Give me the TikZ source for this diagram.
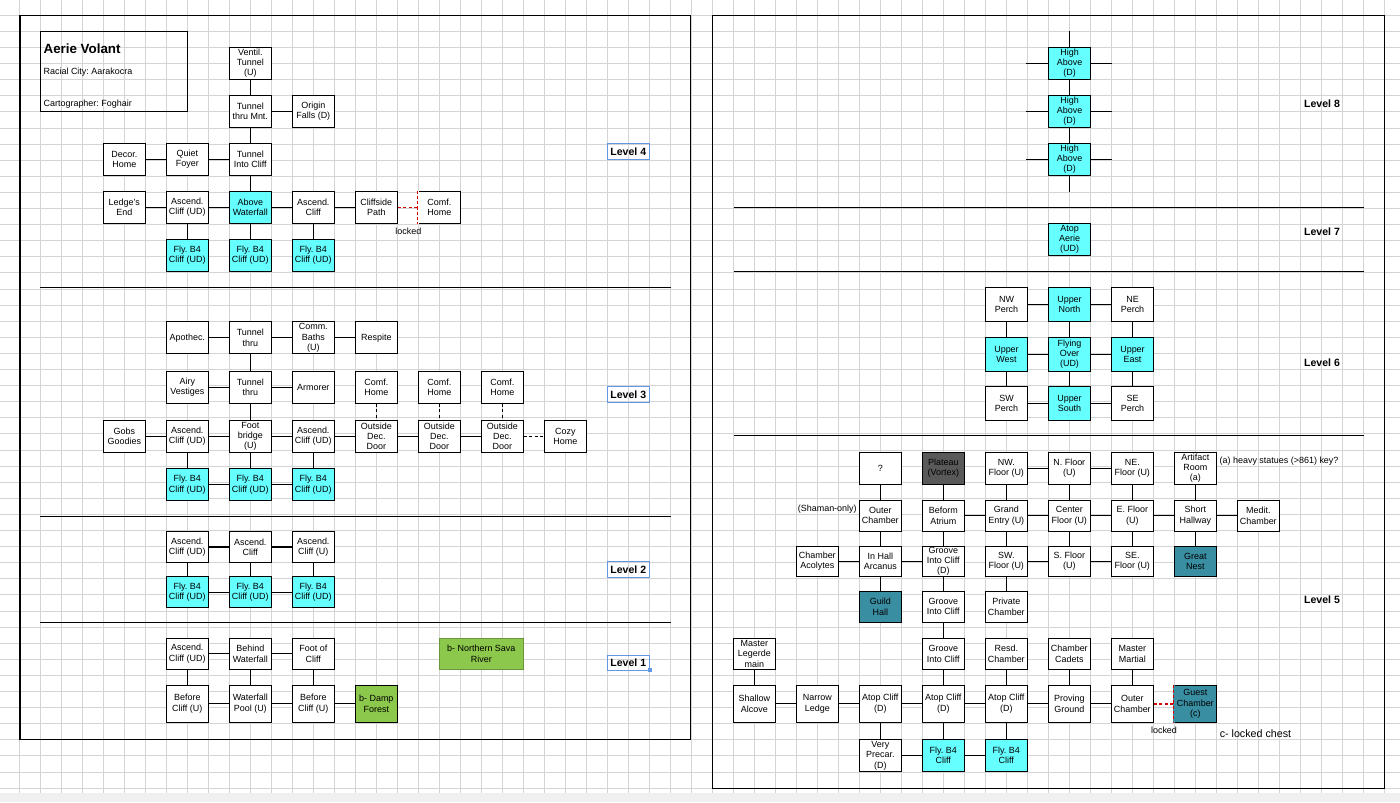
\documentclass[tikz,border=0pt]{standalone}
\usepackage{fontspec}
\setmainfont{Liberation Sans}
\frenchspacing
\definecolor{flycyan}{RGB}{102,255,255}
\definecolor{hallteal}{RGB}{58,142,162}
\definecolor{vortexgray}{RGB}{89,89,89}
\definecolor{exitgreen}{RGB}{140,200,75}
\definecolor{gridgray}{RGB}{212,212,212}
\definecolor{lvlblue}{RGB}{100,150,230}
\definecolor{lockred}{RGB}{210,0,0}
\begin{document}
\begin{tikzpicture}[x=0.02cm, y=-0.02cm,
  every node/.style={font=\fontsize{5.1}{5.9}\selectfont},
  room/.style={draw, fill=white, line width=0.75pt, minimum width=0.84cm, minimum height=0.64cm, inner sep=0pt, align=center},
  fly/.style={room, fill=flycyan},
  hall/.style={room, fill=hallteal},
  vortex/.style={room, fill=vortexgray},
  exit/.style={room, fill=exitgreen},
  link/.style={line width=0.6pt},
  locked/.style={draw=lockred, line width=0.9pt, dash pattern=on 1.8pt off 1.2pt},
  hidden/.style={line width=0.6pt, dash pattern=on 1.8pt off 1.2pt},
  lvl/.style={font=\fontsize{6}{7}\selectfont\bfseries},
  lvlbox/.style={lvl, draw=lvlblue, line width=0.6pt, minimum width=0.84cm, minimum height=0.31cm, inner sep=0pt},
  note/.style={inner sep=0pt},
  frame/.style={line width=0.8pt},
  gridline/.style={gridgray, line width=0.5pt}]
  \useasboundingbox (0,0) rectangle (1400,802);
  \fill[white] (0,0) rectangle (1400,802);
  % Quadrillage
  \foreach \i in {0,...,65}
    \draw[gridline] ({19.7+21*\i},0) -- ++(0,802);
  \foreach \j in {0,...,49}
    \draw[gridline] (0,{15.3+16.1*\j}) -- ++(1400,0);
  \fill[black!6] (0,793.3) rectangle (1400,802);
  % Cadres et niveaux
  \draw[frame] (20,15.3) rectangle (690.7,739.3);
  \draw[frame] (712.5,15.3) rectangle (1384.4,788.7);
  \foreach \y in {287.3,516.5,622.3}
    \draw[frame] (40,\y) -- (670.7,\y);
  \foreach \y in {207.3,271.3,435.3}
    \draw[frame] (733.5,\y) -- (1363.8,\y);
  % Titre
  \node[draw, line width=0.75pt, minimum width=2.94cm, minimum height=1.6cm] (title) at (113.8,71.3) {};
  \node[note, anchor=west, font=\fontsize{7.6}{9}\selectfont\bfseries] (name) at (43.3,48.3) {Aerie Volant};
  \node[note, anchor=west] (racial) at (43.3,71.7) {Racial City: Aarakocra};
  \node[note, anchor=west] (carto) at (43.3,104) {Cartographer: Foghair};
  % Niveau 4
  \node[room] (ventil) at (250.3,63.3) {Ventil.\\Tunnel\\(U)};
  \node[room] (mnt) at (250.3,111.3) {Tunnel\\thru Mnt.};
  \node[room] (origin) at (313.3,111.3) {Origin\\Falls (D)};
  \node[room] (decor) at (124.3,159.3) {Decor.\\Home};
  \node[room] (foyer) at (187.3,159.3) {Quiet\\Foyer};
  \node[room] (intocliff) at (250.3,159.3) {Tunnel\\Into Cliff};
  \node[room] (ledge) at (124.3,207.3) {Ledge's\\End};
  \node[room] (asc4a) at (187.3,207.3) {Ascend.\\Cliff (UD)};
  \node[fly] (above) at (250.3,207.3) {Above\\Waterfall};
  \node[room] (asc4b) at (313.3,207.3) {Ascend.\\Cliff};
  \node[room] (cliffside) at (376.3,207.3) {Cliffside\\Path};
  \node[room] (comf4) at (439.3,207.3) {Comf.\\Home};
  \foreach \n/\x in {fly4a/187.3, fly4b/250.3, fly4c/313.3}
    \node[fly] (\n) at (\x,255.3) {Fly. B4\\Cliff (UD)};
  \foreach \a/\b in {ventil/mnt, mnt/origin, mnt/intocliff, decor/foyer, foyer/intocliff,
      intocliff/above, ledge/asc4a, asc4a/above, above/asc4b, asc4b/cliffside,
      asc4a/fly4a, above/fly4b, asc4b/fly4c}
    \draw[link] (\a) -- (\b);
  \draw[white, line width=1pt] (comf4.north west) -- (comf4.south west);
  \draw[locked] (comf4.north west) -- (comf4.south west);
  \draw[locked] (cliffside) -- (comf4);
  \node (lock4) at (408.3,231.7) {locked};
  \node[lvlbox] (lvl4) at (628.3,151.7) {Level 4};
  % Niveau 3
  \node[room] (apothec) at (187.3,337.8) {Apothec.};
  \node[room] (thru3a) at (250.3,337.8) {Tunnel\\thru};
  \node[room] (baths) at (313.3,337.8) {Comm.\\Baths\\(U)};
  \node[room] (respite) at (376.3,337.8) {Respite};
  \node[room] (airy) at (187.3,387.3) {Airy\\Vestiges};
  \node[room] (thru3b) at (250.3,387.3) {Tunnel\\thru};
  \node[room] (armorer) at (313.3,387.3) {Armorer};
  \foreach \n/\x in {comf3a/376.3, comf3b/439.3, comf3c/502.3}
    \node[room] (\n) at (\x,387.3) {Comf.\\Home};
  \node[room] (gobs) at (124.3,436.3) {Gobs\\Goodies};
  \node[room] (asc3a) at (187.3,436.3) {Ascend.\\Cliff (UD)};
  \node[room] (foot) at (250.3,436.3) {Foot\\bridge\\(U)};
  \node[room] (asc3b) at (313.3,436.3) {Ascend.\\Cliff (UD)};
  \foreach \n/\x in {door3a/376.3, door3b/439.3, door3c/502.3}
    \node[room] (\n) at (\x,436.3) {Outside\\Dec.\\Door};
  \node[room] (cozy) at (565.3,436.3) {Cozy\\Home};
  \foreach \n/\x in {fly3a/187.3, fly3b/250.3, fly3c/313.3}
    \node[fly] (\n) at (\x,484.8) {Fly. B4\\Cliff (UD)};
  \foreach \a/\b in {apothec/thru3a, thru3a/baths, baths/respite, thru3a/thru3b, airy/thru3b,
      thru3b/armorer, thru3b/foot, gobs/asc3a, asc3a/foot, foot/asc3b, asc3b/door3a,
      door3a/door3b, door3b/door3c, asc3a/fly3a, foot/fly3b, asc3b/fly3c, fly3a/fly3b, fly3b/fly3c}
    \draw[link] (\a) -- (\b);
  \foreach \a/\b in {comf3a/door3a, comf3b/door3b, comf3c/door3c, door3c/cozy}
    \draw[hidden] (\a) -- (\b);
  \node[lvlbox] (lvl3) at (628.3,394.7) {Level 3};
  % Niveau 2
  \node[room, minimum height=0.62cm] (asc2a) at (187.3,547) {Ascend.\\Cliff (UD)};
  \node[room, minimum height=0.62cm] (asc2b) at (250.3,547) {Ascend.\\Cliff};
  \node[room, minimum height=0.62cm] (asc2c) at (313.3,547) {Ascend.\\Cliff (U)};
  \foreach \n/\x in {fly2a/187.3, fly2b/250.3, fly2c/313.3}
    \node[fly, minimum height=0.62cm] (\n) at (\x,592.3) {Fly. B4\\Cliff (UD)};
  \foreach \a/\b in {asc2a/asc2b, asc2b/asc2c, asc2a/fly2a, asc2b/fly2b, asc2c/fly2c, fly2a/fly2b, fly2b/fly2c}
    \draw[link] (\a) -- (\b);
  \node[lvlbox] (lvl2) at (628.3,569.3) {Level 2};
  % Niveau 1
  \node[room, minimum height=0.62cm] (asc1) at (187.3,653.8) {Ascend.\\Cliff (UD)};
  \node[room, minimum height=0.62cm] (behind) at (250.3,653.8) {Behind\\Waterfall};
  \node[room, minimum height=0.62cm] (footcliff) at (313.3,653.8) {Foot of\\Cliff};
  \node[room, minimum height=0.74cm] (before1a) at (187.3,703.8) {Before\\Cliff (U)};
  \node[room, minimum height=0.74cm] (pool) at (250.3,703.8) {Waterfall\\Pool (U)};
  \node[room, minimum height=0.74cm] (before1b) at (313.3,703.8) {Before\\Cliff (U)};
  \node[exit, minimum height=0.74cm] (damp) at (376.3,703.8) {b- Damp\\Forest};
  \node[exit, draw=exitgreen!75!black, line width=0.5pt, minimum width=1.69cm, minimum height=0.62cm] (sava) at (481.3,653.8) {b- Northern Sava\\River};
  \foreach \a/\b in {asc1/behind, behind/footcliff, asc1/before1a, behind/pool, footcliff/before1b,
      before1a/pool, pool/before1b, before1b/damp}
    \draw[link] (\a) -- (\b);
  \node[lvlbox] (lvl1) at (628.3,663) {Level 1};
  \fill[lvlblue] (647.5,667.5) rectangle ++(4,4);
  % Niveau 8
  \foreach \n/\y in {high1/63.3, high2/111.3, high3/159.3}
  {
    \node[fly] (\n) at (1069.6,\y) {High\\Above\\(D)};
    \draw[link] (\n.west) -- ++(-21.5,0);
    \draw[link] (\n.east) -- ++(21,0);
  }
  \draw[link] (high1) -- (high2);
  \draw[link] (high2) -- (high3);
  \draw[link] (high1.north) -- ++(0,-16);
  \draw[link] (high3.south) -- ++(0,16.4);
  \node[lvl] (lvl8) at (1322,104) {Level 8};
  % Niveau 7
  \node[fly] (aerie) at (1069.6,239.3) {Atop\\Aerie\\(UD)};
  \node[lvl] (lvl7) at (1322,232) {Level 7};
  % Niveau 6
  \node[room, minimum height=0.68cm] (nwp) at (1006.5,304.3) {NW\\Perch};
  \node[fly, minimum height=0.68cm] (un) at (1069.5,304.3) {Upper\\North};
  \node[room, minimum height=0.68cm] (nep) at (1132.5,304.3) {NE\\Perch};
  \node[fly, minimum height=0.68cm] (uw) at (1006.5,354.2) {Upper\\West};
  \node[fly, minimum height=0.68cm] (fo) at (1069.5,354.2) {Flying\\Over\\(UD)};
  \node[fly, minimum height=0.68cm] (ue) at (1132.5,354.2) {Upper\\East};
  \node[room, minimum height=0.68cm] (swp) at (1006.5,403.3) {SW\\Perch};
  \node[fly, minimum height=0.68cm] (us) at (1069.5,403.3) {Upper\\South};
  \node[room, minimum height=0.68cm] (sep) at (1132.5,403.3) {SE\\Perch};
  \foreach \a/\b in {nwp/un, un/nep, uw/fo, fo/ue, swp/us, us/sep,
      nwp/uw, uw/swp, un/fo, fo/us, nep/ue, ue/sep}
    \draw[link] (\a) -- (\b);
  \node[lvl] (lvl6) at (1322,363) {Level 6};
  % Niveau 5
  \node[room] (unknown) at (880.3,468.3) {?};
  \node[vortex] (plateau) at (943.3,468.3) {Plateau\\(Vortex)};
  \node[room] (nwfloor) at (1006.3,468.3) {NW.\\Floor (U)};
  \node[room] (nfloor) at (1069.3,468.3) {N. Floor\\(U)};
  \node[room] (nefloor) at (1132.3,468.3) {NE.\\Floor (U)};
  \node[room] (artifact) at (1195.3,468.3) {Artifact\\Room\\(a)};
  \node[room, minimum height=0.62cm] (outerA) at (880.3,515.7) {Outer\\Chamber};
  \node[room, minimum height=0.62cm] (atrium) at (943.3,515.7) {Beform\\Atrium};
  \node[room, minimum height=0.62cm] (grand) at (1006.3,515.7) {Grand\\Entry (U)};
  \node[room, minimum height=0.62cm] (center) at (1069.3,515.7) {Center\\Floor (U)};
  \node[room, minimum height=0.62cm] (efloor) at (1132.3,515.7) {E. Floor\\(U)};
  \node[room, minimum height=0.62cm] (hallway) at (1195.3,515.7) {Short\\Hallway};
  \node[room, minimum height=0.62cm] (medit) at (1258.3,515.7) {Medit.\\Chamber};
  \node[room, minimum height=0.6cm] (acolytes) at (817.3,561.3) {Chamber\\Acolytes};
  \node[room, minimum height=0.6cm] (arcanus) at (880.3,561.3) {In Hall\\Arcanus};
  \node[room, minimum height=0.6cm] (grooveA) at (943.3,561.3) {Groove\\Into Cliff\\(D)};
  \node[room, minimum height=0.6cm] (swfloor) at (1006.3,561.3) {SW.\\Floor (U)};
  \node[room, minimum height=0.6cm] (sfloor) at (1069.3,561.3) {S. Floor\\(U)};
  \node[room, minimum height=0.6cm] (sefloor) at (1132.3,561.3) {SE.\\Floor (U)};
  \node[hall, minimum height=0.6cm] (nest) at (1195.3,561.3) {Great\\Nest};
  \node[hall, minimum height=0.62cm] (guild) at (880.3,606.7) {Guild\\Hall};
  \node[room, minimum height=0.62cm] (grooveB) at (943.3,606.7) {Groove\\Into Cliff};
  \node[room, minimum height=0.62cm] (private) at (1006.3,606.7) {Private\\Chamber};
  \node[room, minimum height=0.62cm] (legerde) at (754.4,653.8) {Master\\Legerde\\main};
  \node[room, minimum height=0.62cm] (grooveC) at (943.3,653.8) {Groove\\Into Cliff};
  \node[room, minimum height=0.62cm] (resd) at (1006.3,653.8) {Resd.\\Chamber};
  \node[room, minimum height=0.62cm] (cadets) at (1069.3,653.8) {Chamber\\Cadets};
  \node[room, minimum height=0.62cm] (martial) at (1132.3,653.8) {Master\\Martial};
  \node[room, minimum height=0.74cm] (alcove) at (754.4,703.8) {Shallow\\Alcove};
  \node[room, minimum height=0.74cm] (narrow) at (817.3,703.8) {Narrow\\Ledge};
  \foreach \n/\x in {atopA/880.3, atopB/943.3, atopC/1006.3}
    \node[room, minimum height=0.74cm] (\n) at (\x,703.8) {Atop Cliff\\(D)};
  \node[room, minimum height=0.74cm] (proving) at (1069.3,703.8) {Proving\\Ground};
  \node[room, minimum height=0.74cm] (outerB) at (1132.3,703.8) {Outer\\Chamber};
  \node[hall, minimum height=0.74cm] (guest) at (1195.3,703.8) {Guest\\Chamber\\(c)};
  \node[room] (precar) at (880.3,755.5) {Very\\Precar.\\(D)};
  \foreach \n/\x in {fly5a/943.3, fly5b/1006.3}
    \node[fly] (\n) at (\x,755.5) {Fly. B4\\Cliff};
  \foreach \a/\b in {nwfloor/nfloor, nfloor/nefloor, unknown/outerA, plateau/atrium, nwfloor/grand,
      nfloor/center, nefloor/efloor, artifact/hallway, atrium/grand, grand/center, center/efloor,
      efloor/hallway, hallway/medit, outerA/arcanus, atrium/grooveA, grand/swfloor, center/sfloor,
      efloor/sefloor, hallway/nest, acolytes/arcanus, arcanus/grooveA, swfloor/sfloor, sfloor/sefloor,
      arcanus/guild, grooveA/grooveB, swfloor/private, grooveB/grooveC, legerde/alcove,
      grooveC/atopB, resd/atopC, cadets/proving, martial/outerB, alcove/narrow, narrow/atopA,
      atopA/atopB, atopB/atopC, atopC/proving, proving/outerB, atopA/precar, atopB/fly5a,
      atopC/fly5b, precar/fly5a, fly5a/fly5b}
    \draw[link] (\a) -- (\b);
  \draw[hallteal, line width=1pt] (guest.north west) -- (guest.south west);
  \draw[locked] (guest.north west) -- (guest.south west);
  \draw[locked] (outerB) -- (guest);
  \node[note, anchor=east] (shaman) at (857,509.3) {(Shaman-only)};
  \node[note, anchor=west] (statues) at (1219.3,461) {(a) heavy statues (>861) key?};
  \node (lock5) at (1164,730.7) {locked};
  \node[note, anchor=west, font=\fontsize{6.1}{7}\selectfont] (chest) at (1219.4,733.3) {c- locked chest};
  \node[lvl] (lvl5) at (1322,600) {Level 5};
\end{tikzpicture}
\end{document}
